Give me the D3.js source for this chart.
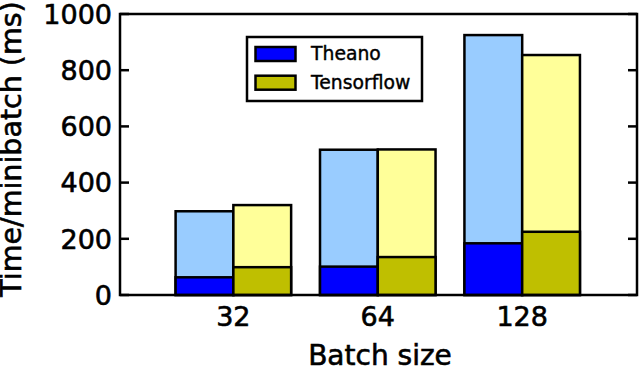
<!DOCTYPE html>
<html>
<head>
<meta charset="utf-8">
<script src="https://cdn.jsdelivr.net/npm/d3@7"></script>
<style>
  html, body { margin: 0; padding: 0; background: #fff; }
  svg { display: block; }
  text { font-family: "DejaVu Sans", sans-serif; fill: #000; stroke: #000; stroke-width: 0.6px; }
</style>
</head>
<body>
<svg id="chart" width="640" height="370"></svg>
<script>
const categories = ["32", "64", "128"];
const theanoTotal = [298, 517, 925];
const theanoCompute = [63, 101, 184];
const tfTotal = [320, 518, 854];
const tfCompute = [99, 135, 225];
const yTicks = [0, 200, 400, 600, 800, 1000];
const seriesNames = ["Theano", "Tensorflow"];

const svg = d3.select("#chart");
const L = 120, R = 637, T = 14, B = 295;
const x = d3.scaleLinear().domain([-0.785, 2.795]).range([L, R]);
const y = d3.scaleLinear().domain([0, 1000]).range([B, T]);
const bw = 0.4;

const colors = {
  theanoLight: "#99ccff", theanoDark: "#0000ff",
  tfLight: "#ffff99", tfDark: "#bfbf00"
};

function drawBars(vals, offset, fill) {
  svg.append("g").selectAll("rect").data(vals).join("rect")
    .attr("x", (d, i) => x(i + offset))
    .attr("width", (d, i) => x(i + offset + bw) - x(i + offset))
    .attr("y", d => y(d))
    .attr("height", d => y(0) - y(d))
    .attr("fill", fill)
    .attr("stroke", "#000")
    .attr("stroke-width", 2.5);
}
drawBars(theanoTotal, -bw, colors.theanoLight);
drawBars(tfTotal, 0, colors.tfLight);
drawBars(theanoCompute, -bw, colors.theanoDark);
drawBars(tfCompute, 0, colors.tfDark);

// ticks (inward, left and right)
const tickG = svg.append("g");
yTicks.forEach(t => {
  tickG.append("line").attr("x1", L).attr("x2", L + 9).attr("y1", y(t)).attr("y2", y(t))
    .attr("stroke", "#000").attr("stroke-width", 2.5);
  tickG.append("line").attr("x1", R - 9).attr("x2", R).attr("y1", y(t)).attr("y2", y(t))
    .attr("stroke", "#000").attr("stroke-width", 2.5);
});

// axis frame
svg.append("rect").attr("x", L).attr("y", T).attr("width", R - L).attr("height", B - T)
  .attr("fill", "none").attr("stroke", "#000").attr("stroke-width", 2.5);

// y tick labels
svg.append("g").selectAll("text").data(yTicks).join("text")
  .attr("x", L - 8).attr("y", d => y(d)).attr("dy", "0.36em")
  .attr("text-anchor", "end").attr("font-size", 27)
  .text(d => d);

// x tick labels
svg.append("g").selectAll("text").data(categories).join("text")
  .attr("x", (d, i) => x(i)).attr("y", 326)
  .attr("text-anchor", "middle").attr("font-size", 27)
  .text(d => d);

// axis labels
svg.append("text").attr("x", 380).attr("y", 365)
  .attr("text-anchor", "middle").attr("font-size", 28).text("Batch size");
svg.append("text")
  .attr("transform", `translate(21,149) rotate(-90)`)
  .attr("text-anchor", "middle").attr("font-size", 28.5).text("Time/minibatch (ms)");

// legend
const lg = svg.append("g");
lg.append("rect").attr("x", 247).attr("y", 37).attr("width", 175).attr("height", 64)
  .attr("fill", "#fff").attr("stroke", "#000").attr("stroke-width", 2.5);
const legendFills = [colors.theanoDark, colors.tfDark];
seriesNames.forEach((n, i) => {
  const yy = 47 + i * 28.7;
  lg.append("rect").attr("x", 255.5).attr("y", yy).attr("width", 40).attr("height", 14)
    .attr("fill", legendFills[i]).attr("stroke", "#000").attr("stroke-width", 2.5);
  lg.append("text").attr("x", 311).attr("y", yy + 13).attr("font-size", 18.8)
    .style("stroke-width", "0.4px").text(n);
});
</script>
</body>
</html>
